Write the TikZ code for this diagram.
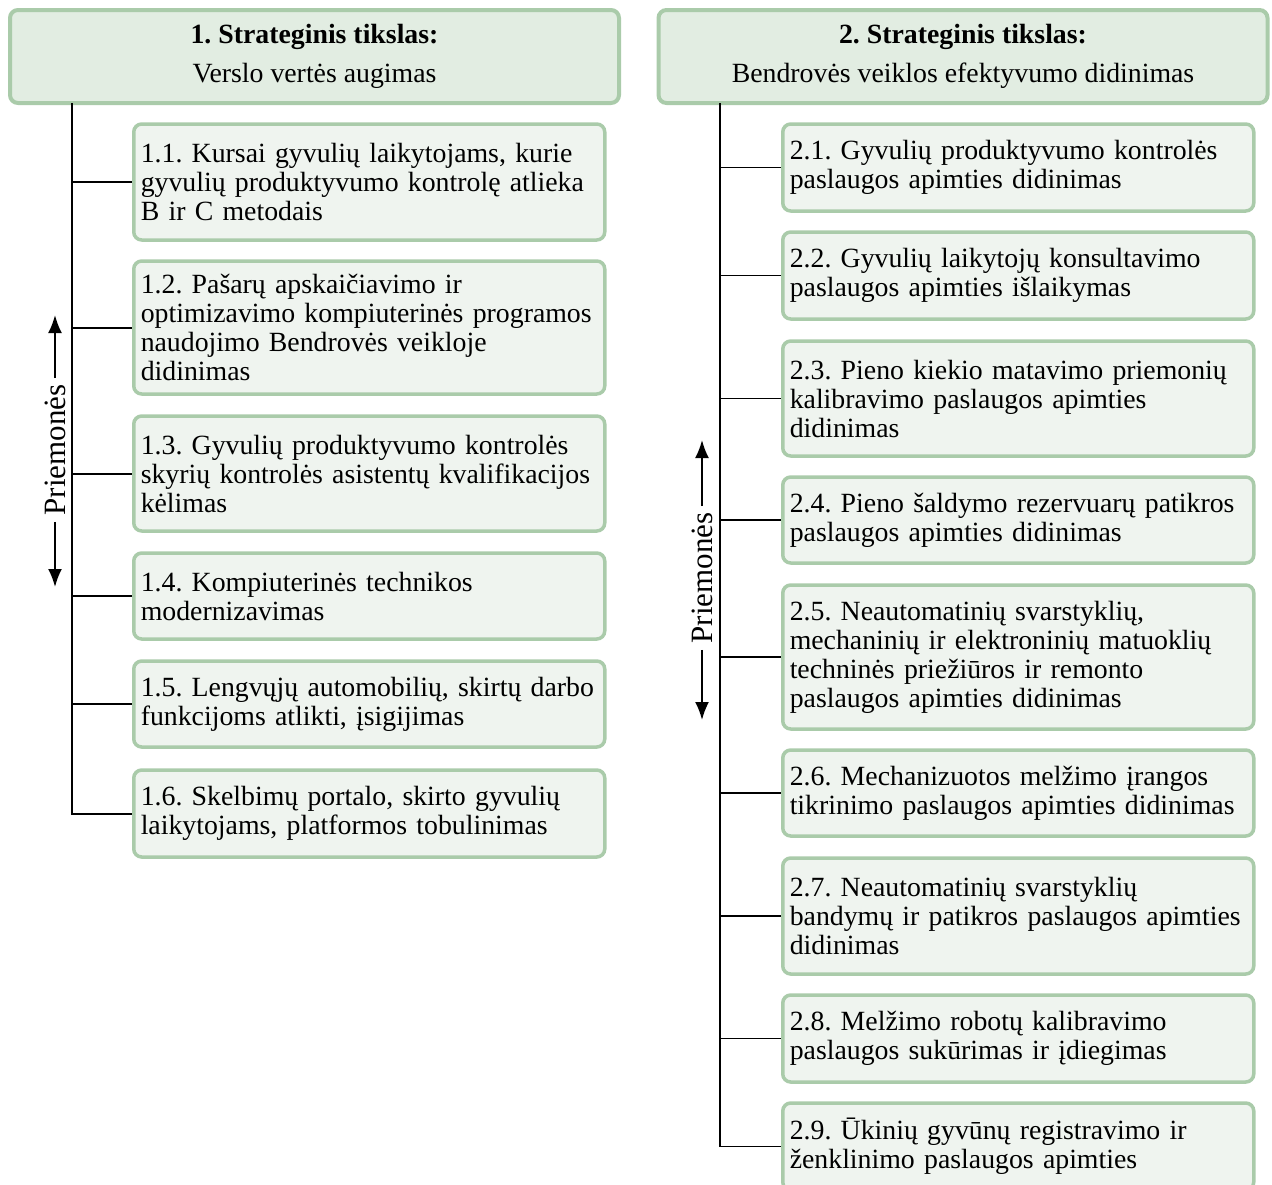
\documentclass[tikz,border=0pt]{standalone}
\usepackage{fontspec}
\setmainfont{Liberation Serif}
\usetikzlibrary{arrows.meta}
\definecolor{goalfill}{RGB}{226,237,226}
\definecolor{itemfill}{RGB}{239,244,239}
\definecolor{boxline}{RGB}{170,203,170}
\tikzset{
	goal/.style={draw=boxline, fill=goalfill, line width=2pt, rounded corners=4pt,
		minimum width=304.5pt, minimum height=46.5pt, align=center,
		font=\fontsize{13.9pt}{14.5pt}\selectfont\frenchspacing},
	itembox/.style={draw=boxline, fill=itemfill, line width=1.75pt, rounded corners=4pt,
		anchor=west, inner xsep=3.5pt, text width=228.5pt, align=left,
		font=\fontsize{13.9pt}{14.5pt}\selectfont\frenchspacing},
	means/.style={rotate=90, inner sep=3pt, font=\fontsize{15.5pt}{16pt}\selectfont},
	meanarrow/.style={line width=1pt, -{Latex[length=9pt,width=7pt]}}
}
\begin{document}
\begin{tikzpicture}[x=0.5pt,y=-0.5pt]
	\useasboundingbox (0,0) rectangle (1272,1184);
	\clip (0,0) rectangle (1272,1184);
	% goals
	\node[goal] (g1) at (314.5,56.5) {\textbf{1. Strateginis tikslas:}\\[5pt]Verslo vertės augimas};
	\node[goal] (g2) at (963,56.5) {\textbf{2. Strateginis tikslas:}\\[5pt]Bendrovės veiklos efektyvumo didinimas};
	% measures of goal 1
	\node[itembox, minimum height=58pt] (a1) at (132,182) {1.1. Kursai gyvulių laikytojams, kurie\\gyvulių produktyvumo kontrolę atlieka\\B ir C metodais};
	\node[itembox, minimum height=66.5pt] (a2) at (132,327.5) {1.2. Pašarų apskaičiavimo ir\\optimizavimo kompiuterinės programos\\naudojimo Bendrovės veikloje\\didinimas};
	\node[itembox, minimum height=57.5pt] (a3) at (132,473.5) {1.3. Gyvulių produktyvumo kontrolės\\skyrių kontrolės asistentų kvalifikacijos\\kėlimas};
	\node[itembox, minimum height=43pt] (a4) at (132,596) {1.4. Kompiuterinės technikos\\modernizavimas};
	\node[itembox, minimum height=43pt] (a5) at (132,704) {1.5. Lengvųjų automobilių, skirtų darbo\\funkcijoms atlikti, įsigijimas};
	\node[itembox, minimum height=43.5pt] (a6) at (132,813.5) {1.6. Skelbimų portalo, skirto gyvulių\\laikytojams, platformos tobulinimas};
	% measures of goal 2
	\node[itembox, minimum height=43.5pt] (b1) at (781,167.5) {2.1. Gyvulių produktyvumo kontrolės\\paslaugos apimties didinimas};
	\node[itembox, minimum height=43.5pt] (b2) at (781,275.5) {2.2. Gyvulių laikytojų konsultavimo\\paslaugos apimties išlaikymas};
	\node[itembox, minimum height=57.5pt] (b3) at (781,398.5) {2.3. Pieno kiekio matavimo priemonių\\kalibravimo paslaugos apimties\\didinimas};
	\node[itembox, minimum height=43pt] (b4) at (781,520) {2.4. Pieno šaldymo rezervuarų patikros\\paslaugos apimties didinimas};
	\node[itembox, minimum height=72pt] (b5) at (781,657) {2.5. Neautomatinių svarstyklių,\\mechaninių ir elektroninių matuoklių\\techninės priežiūros ir remonto\\paslaugos apimties didinimas};
	\node[itembox, minimum height=43pt] (b6) at (781,793) {2.6. Mechanizuotos melžimo įrangos\\tikrinimo paslaugos apimties didinimas};
	\node[itembox, minimum height=58pt] (b7) at (781,916) {2.7. Neautomatinių svarstyklių\\bandymų ir patikros paslaugos apimties\\didinimas};
	\node[itembox, minimum height=43.5pt] (b8) at (781,1038.5) {2.8. Melžimo robotų kalibravimo\\paslaugos sukūrimas ir įdiegimas};
	\node[itembox, minimum height=43.5pt] (b9) at (781,1146.5) {2.9. Ūkinių gyvūnų registravimo ir\\ženklinimo paslaugos apimties};
	% trunks
	\coordinate (t1) at (72,103);
	\coordinate (t2) at (720,103);
	\draw[line width=1pt] (t1) |- (a6.west);
	\foreach \i in {1,...,5} \draw[line width=1pt] (a\i.west -| t1) -- (a\i.west);
	\draw[line width=0.7pt] (t2) |- (b9.west);
	\foreach \i in {1,...,8} \draw[line width=0.7pt] (b\i.west -| t2) -- (b\i.west);
	% Priemonės
	\node[means] (p1) at (55,450) {Priemonės};
	\coordinate (p1up) at (55,315);
	\coordinate (p1down) at (55,587);
	\draw[meanarrow] (p1.east) -- (p1up);
	\draw[meanarrow] (p1.west) -- (p1down);
	\node[means] (p2) at (702,578) {Priemonės};
	\coordinate (p2up) at (702,440);
	\coordinate (p2down) at (702,720);
	\draw[meanarrow] (p2.east) -- (p2up);
	\draw[meanarrow] (p2.west) -- (p2down);
\end{tikzpicture}
\end{document}
